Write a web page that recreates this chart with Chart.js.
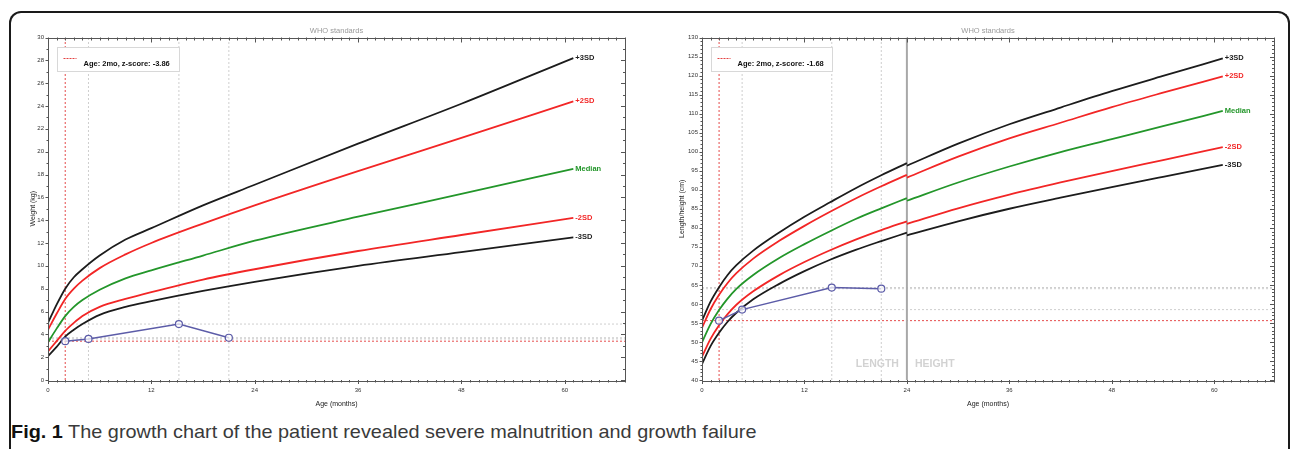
<!DOCTYPE html>
<html>
<head>
<meta charset="utf-8">
<script src="https://cdn.jsdelivr.net/npm/chart.js@4.4.0/dist/chart.umd.min.js"></script>
<style>
  body { margin: 0; background: #fff; width: 1290px; height: 449px; overflow: hidden; position: relative; font-family: 'Liberation Sans', Arial, sans-serif; }
  #box { position: absolute; left: 9px; top: 11px; width: 1277px; height: 460px; border: 2px solid #1a1a1a; border-bottom: none; border-radius: 12px 12px 0 0; }
  canvas { position: absolute; top: 0; }
  #c1 { left: 0; }
  #c2 { left: 650px; }
  #cap { position: absolute; left: 11px; top: 421px; font-size: 19px; line-height: 22px; color: #3a3a3a; white-space: nowrap; transform-origin: left top; }
  #cap b { color: #111; }
</style>
</head>
<body>
<div id="box"></div>
<canvas id="c1" width="650" height="420"></canvas>
<canvas id="c2" width="640" height="420"></canvas>
<div id="cap"><b>Fig. 1</b> The growth chart of the patient revealed severe malnutrition and growth failure</div>
<script>
// WHO weight-for-age (boys)
const ageW = [0, 1, 2, 3, 4, 6, 9, 12, 18, 24, 36, 48, 61];
const wM3  = [2.1, 2.9, 3.8, 4.4, 4.9, 5.7, 6.4, 6.9, 7.8, 8.6, 10.0, 11.2, 12.5];
const wM2  = [2.5, 3.4, 4.3, 5.0, 5.6, 6.4, 7.1, 7.7, 8.8, 9.7, 11.3, 12.7, 14.2];
const wMed = [3.3, 4.5, 5.6, 6.4, 7.0, 7.9, 8.9, 9.6, 10.9, 12.2, 14.3, 16.3, 18.5];
const wP2  = [4.4, 5.8, 7.1, 8.0, 8.7, 9.8, 11.0, 12.0, 13.7, 15.3, 18.3, 21.2, 24.4];
const wP3  = [5.0, 6.6, 8.0, 9.0, 9.7, 10.9, 12.3, 13.3, 15.3, 17.1, 20.7, 24.2, 28.2];

// WHO length-for-age 0-24 mo
const ageL = [0, 1, 2, 3, 4, 6, 9, 12, 15, 18, 21, 24];
const lM3  = [44.2, 48.9, 52.4, 55.3, 57.6, 61.2, 65.2, 68.6, 71.6, 74.2, 76.5, 78.7];
const lM2  = [46.1, 50.8, 54.4, 57.3, 59.7, 63.3, 67.5, 71.0, 74.1, 76.9, 79.4, 81.7];
const lMed = [49.9, 54.7, 58.4, 61.4, 63.9, 67.6, 72.0, 75.7, 79.1, 82.3, 85.1, 87.8];
const lP2  = [53.7, 58.6, 62.4, 65.5, 68.0, 71.9, 76.5, 80.5, 84.2, 87.7, 90.9, 93.9];
const lP3  = [55.6, 60.6, 64.4, 67.6, 70.1, 74.0, 78.7, 82.9, 86.7, 90.4, 93.8, 97.0];

// WHO height-for-age 24-61 mo
const ageH = [24, 30, 36, 42, 48, 54, 61];
const hM3  = [78.0, 81.7, 85.0, 87.9, 90.7, 93.4, 96.5];
const hM2  = [81.0, 85.1, 88.7, 91.9, 94.9, 97.8, 101.2];
const hMed = [87.1, 91.9, 96.1, 99.9, 103.3, 106.7, 110.7];
const hP2  = [93.2, 98.7, 103.5, 107.6, 111.7, 115.5, 119.8];
const hP3  = [96.3, 102.1, 107.2, 111.6, 115.9, 119.9, 124.5];

// patient visits
const visitAge = [2, 4.7, 15.2, 21.0];
const visitWeight = [3.4, 3.6, 4.9, 3.7];
const visitLength = [55.6, 58.5, 64.3, 64.0];

const xMax = 67;
const RED = '#f22626', BLACK = '#1c1c1c', GREEN = '#23962a', BLUE = '#5c5ca8';

function pts(xs, ys) { return xs.map((v, i) => ({x: v, y: ys[i]})); }

function curve(xs, ys, color, label) {
    return {data: pts(xs, ys), borderColor: color, borderWidth: 1.8, pointRadius: 0,
        cubicInterpolationMode: 'monotone', endLabel: label, order: 1};
}

function refLine(data, red) {
    return {data: data, borderColor: red ? 'rgba(225,45,45,0.85)' : 'rgba(165,165,165,0.55)',
        borderWidth: 1, borderDash: [2, 2], pointRadius: 0, order: 2};
}

function visitLines(vals, yMin, yMax) {
    const out = [];
    visitAge.forEach((a, i) => {
        out.push(refLine([{x: a, y: yMin}, {x: a, y: yMax}], i === 0));
        out.push(refLine([{x: 0, y: vals[i]}, {x: xMax, y: vals[i]}], i === 0));
    });
    return out;
}

function patient(vals) {
    return {data: pts(visitAge, vals), borderColor: BLUE, borderWidth: 1.5, pointRadius: 3.5,
        pointBorderWidth: 1.2, pointBorderColor: BLUE, pointBackgroundColor: 'rgba(255,255,255,0.7)', order: 0};
}

const decoPlugin = {
    id: 'deco',
    afterDatasetsDraw(chart, args, o) {
        const {ctx, chartArea: a, scales: {x, y}} = chart;
        ctx.save();
        ctx.strokeStyle = '#555';
        ctx.lineWidth = 1;
        ctx.strokeRect(Math.round(a.left) + .5, Math.round(a.top) + .5, Math.round(a.right - a.left), Math.round(a.bottom - a.top));
        ctx.beginPath();
        for (let v = 0; v <= xMax; v++) {
            const px = Math.round(x.getPixelForValue(v)) + .5;
            const big = v % 12 === 0;
            ctx.moveTo(px, a.bottom); ctx.lineTo(px, a.bottom + (big ? 4 : 2.5));
            ctx.moveTo(px, a.top); ctx.lineTo(px, a.top + (big ? 5 : 3));
        }
        for (let v = y.min; v <= y.max; v += 1) {
            const py = Math.round(y.getPixelForValue(v)) + .5;
            const big = (v - y.min) % o.yMajor === 0;
            ctx.moveTo(a.left, py); ctx.lineTo(a.left - (big ? 2.5 : 1.5), py);
            ctx.moveTo(a.right, py); ctx.lineTo(a.right - (big ? 4 : 2), py);
        }
        ctx.stroke();

        // title
        ctx.fillStyle = '#9a9a9a';
        ctx.font = '7.5px "Liberation Sans", Arial';
        ctx.textAlign = 'center';
        ctx.textBaseline = 'middle';
        ctx.fillText('WHO standards', (a.left + a.right) / 2, a.top - 7);

        // curve end labels
        ctx.font = 'bold 7.5px "Liberation Sans", Arial';
        ctx.textAlign = 'left';
        chart.data.datasets.forEach((ds, i) => {
            if (!ds.endLabel) return;
            const el = chart.getDatasetMeta(i).data;
            const p = el[el.length - 1];
            ctx.fillStyle = ds.borderColor;
            ctx.fillText(ds.endLabel, p.x + 2, p.y);
        });

        // length / height split
        if (o.split) {
            const sx = x.getPixelForValue(24);
            const sy = y.getPixelForValue(44.2);
            ctx.font = 'bold 10.5px "Liberation Sans", Arial';
            ctx.fillStyle = '#d2d2d2';
            ctx.textAlign = 'right';
            ctx.fillText('LENGTH', sx - 8, sy);
            ctx.textAlign = 'left';
            ctx.fillText('HEIGHT', sx + 8, sy);
        }

        // legend box
        const bx = Math.round(a.left + 9) + .5, by = Math.round(a.top + 9.5) + .5;
        ctx.fillStyle = '#fff';
        ctx.fillRect(bx, by, o.legendW, 24);
        ctx.strokeStyle = '#d8d8d8';
        ctx.strokeRect(bx, by, o.legendW, 24);
        ctx.strokeStyle = 'rgba(225,45,45,0.9)';
        ctx.setLineDash([2, 1]);
        ctx.beginPath();
        ctx.moveTo(bx + 6, by + 11); ctx.lineTo(bx + 19, by + 11);
        ctx.stroke();
        ctx.setLineDash([]);
        ctx.fillStyle = '#111';
        ctx.font = 'bold 7.5px "Liberation Sans", Arial';
        ctx.textAlign = 'left';
        ctx.fillText(o.legend, bx + 26, by + 16.5);
        ctx.restore();
    }
};

function makeChart(id, datasets, yMin, yMax, yStep, yTitle, padRight, yWidth, yTitlePad, decoOpts) {
    return new Chart(document.getElementById(id), {
        type: 'line',
        data: {datasets: datasets},
        options: {
            responsive: false,
            animation: false,
            layout: {padding: {left: 0, top: 37.5, right: padRight, bottom: 0}},
            plugins: {legend: {display: false}, tooltip: {enabled: false}, deco: decoOpts},
            scales: {
                x: {
                    type: 'linear', min: 0, max: xMax,
                    grid: {display: false, drawTicks: false},
                    border: {display: false},
                    ticks: {stepSize: 12, autoSkip: false, maxRotation: 0, padding: 7, color: '#333',
                        font: {size: 6, family: 'Liberation Sans'},
                        callback: v => (v % 12 === 0 ? v : '')},
                    title: {display: true, text: 'Age (months)', color: '#222',
                        font: {size: 7, family: 'Liberation Sans'}, padding: {top: 0, bottom: 11.8}},
                    afterFit: s => { s.height = 40; }
                },
                y: {
                    min: yMin, max: yMax,
                    grid: {display: false, drawTicks: false},
                    border: {display: false},
                    ticks: {stepSize: yStep, autoSkip: false, padding: 4, color: '#333',
                        font: {size: 6, family: 'Liberation Sans'}},
                    title: {display: true, text: yTitle, color: '#222',
                        font: {size: 7, family: 'Liberation Sans'}, padding: {top: yTitlePad, bottom: 0}},
                    afterFit: s => { s.width = yWidth; }
                }
            }
        },
        plugins: [decoPlugin]
    });
}

const weightSets = [
    patient(visitWeight),
    curve(ageW, wP3, BLACK, '+3SD'),
    curve(ageW, wP2, RED, '+2SD'),
    curve(ageW, wMed, GREEN, 'Median'),
    curve(ageW, wM2, RED, '-2SD'),
    curve(ageW, wM3, BLACK, '-3SD'),
    ...visitLines(visitWeight, 0, 30)
];

const heightSets = [
    patient(visitLength),
    curve(ageL, lP3, BLACK), curve(ageL, lP2, RED), curve(ageL, lMed, GREEN), curve(ageL, lM2, RED), curve(ageL, lM3, BLACK),
    curve(ageH, hP3, BLACK, '+3SD'),
    curve(ageH, hP2, RED, '+2SD'),
    curve(ageH, hMed, GREEN, 'Median'),
    curve(ageH, hM2, RED, '-2SD'),
    curve(ageH, hM3, BLACK, '-3SD'),
    {data: [{x: 24, y: 40}, {x: 24, y: 130}], borderColor: '#a8a8a8', borderWidth: 2, pointRadius: 0, order: 2},
    ...visitLines(visitLength, 40, 130)
];

makeChart('c1', weightSets, 0, 30, 2, 'Weight (kg)', 25, 48, 28.8,
    {yMajor: 2, legend: 'Age: 2mo, z-score: -3.86', legendW: 122});
makeChart('c2', heightSets, 40, 130, 5, 'Length/height (cm)', 16, 52, 27.8,
    {yMajor: 5, legend: 'Age: 2mo, z-score: -1.68', legendW: 121, split: true});

const cap = document.getElementById('cap');
cap.style.transform = 'scaleX(' + (746 / cap.offsetWidth) + ')';
</script>
</body>
</html>
